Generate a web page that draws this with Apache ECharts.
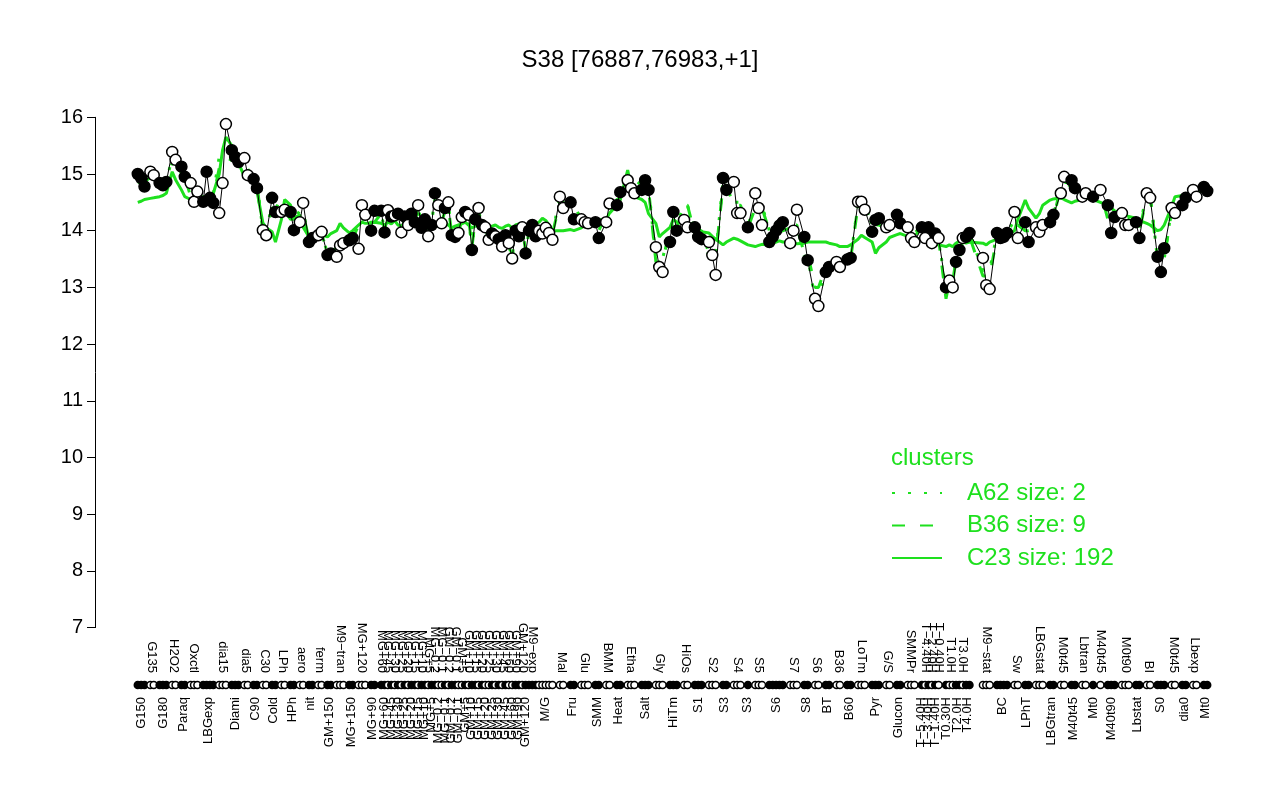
<!DOCTYPE html>
<html>
<head>
<meta charset="utf-8">
<script src="https://cdn.jsdelivr.net/npm/echarts@6/dist/echarts.min.js"></script>
<style>
  html, body { margin: 0; background: #fff; }
  #chart { width: 1280px; height: 800px; }
</style>
</head>
<body>
<div id="chart"></div>
<script>
// condition groups, left to right
const groupNames = [
  "G150", "G135", "G180", "H2O2", "Paraq", "Oxctl", "LBGexp", "dia15", "Diami", "dia5", "C90", "C30",
  "Cold", "LPh", "HPh", "aero", "nit", "ferm", "GM+150", "M9−tran", "MG+150", "MG+120", "MG+90",
  "MG+60", "MG+60", "MG+45", "MG+45", "MG+30", "MG+30", "MG+25", "MG+25", "MG+20", "MG+20", "MG+15", "MG+15",
  "MG+10", "MG+10", "MG+5", "MG+5", "MG−0.2", "MG−0.2", "MG−0.1", "MG−0.1", "GM−0.2", "GM−0.2", "GM−0.1", "GM−0.1",
  "GM+5", "GM+5", "GM+10", "GM+10", "GM+15", "GM+15", "GM+20", "GM+20", "GM+25", "GM+25", "GM+30", "GM+30",
  "GM+45", "GM+45", "GM+60", "GM+60", "GM+90", "GM+90", "GM+120", "GM+120", "M9−exp", "M/G",
  "Mal", "Fru", "Glu", "SMM", "BMM", "Heat", "Etha", "Salt", "Gly", "HiTm", "HiOs", "S1", "S2", "S3", "S4", "S3",
  "S5", "S6", "S7", "S8", "S6", "BT", "B36", "B60", "LoTm", "Pyr", "G/S", "Glucon", "SMMPr",
  "T−5.40H", "T−4.40H", "T−3.40H", "T−2.40H", "T−1.40H", "T−0.40H", "T0.30H", "T1.0H", "T2.0H", "T3.0H", "T4.0H",
  "M9−stat", "BC", "Sw", "LPhT", "LBGstat", "LBGtran", "M0t45", "M40t45", "Lbtran", "Mt0", "M40t45", "M40t90",
  "M0t90", "Lbstat", "BI", "S0", "M0t45", "dia0", "Lbexp", "Mt0"
];
const groupSizes = [
  3, 2, 3, 2, 2, 3, 4, 3, 3, 2, 2, 2, 2, 2, 2, 2, 2, 2, 2, 3, 2, 3, 2,
  1, 1, 1, 1, 1, 1, 1, 1, 1, 1, 1, 1, 1, 1, 1, 1, 1, 1, 1, 1, 1, 1, 1, 1,
  1, 1, 1, 1, 1, 1, 1, 1, 1, 1, 1, 1, 1, 1, 1, 1, 1, 1, 1, 1, 3, 5,
  2, 2, 3, 2, 2, 2, 3, 3, 3, 3, 2, 3, 3, 2, 3, 1, 3, 5, 3, 2, 2, 2, 2, 2, 3, 3, 2, 2, 3,
  1, 1, 1, 1, 1, 1, 1, 2, 2, 1, 2,
  3, 4, 2, 2, 3, 2, 2, 2, 2, 1, 1, 3, 3, 2, 2, 3, 2, 2, 2, 2
];
// 1 = filled marker, 0 = open marker
const groupFilled = [
  1, 0, 1, 0, 1, 0, 1, 0, 1, 0, 1, 0, 1, 0, 1, 0, 1, 0, 1, 0, 1, 0, 1,
  1, 1, 0, 1, 0, 1, 0, 1, 0, 1, 1, 0, 1, 1, 0, 1, 1, 0, 0, 1, 0, 1, 1,
  0, 0, 1, 0, 1, 1, 0, 1, 0, 0, 1, 0, 1, 0, 1, 0, 0, 1, 1, 0, 1, 1, 0,
  0, 1, 0, 1, 0, 1, 0, 1, 0, 1, 0, 1, 0, 1, 0, 1, 0, 1, 0, 1, 0, 1, 0, 1, 0, 1, 0, 1, 0,
  1, 0, 1, 0, 1, 0, 1, 0, 1, 0, 1,
  0, 1, 0, 1, 0, 1, 0, 1, 0, 1, 0, 1, 0, 1, 0, 1, 0, 1, 0, 1
];
// expression value of every sample
const sampleValues = [
  15.0, 14.93, 14.78, 15.04, 14.98, 14.84, 14.8, 14.86, 15.39, 15.25, 15.13, 14.95,
  14.84, 14.51, 14.69, 14.51, 15.04, 14.58, 14.49, 14.31, 14.84, 15.88, 15.42, 15.3, 15.21,
  15.28, 14.98, 14.91, 14.75, 14.01, 13.92, 14.58, 14.33, 14.33, 14.37, 14.33, 14.01,
  14.15, 14.49, 13.8, 13.87, 13.92, 13.98, 13.57, 13.6, 13.54, 13.74, 13.78, 13.83, 13.87,
  13.68, 14.45, 14.28, 14.0, 14.35,
  14.35, 13.97, 14.36, 14.25, 14.27, 14.3, 13.97, 14.25, 14.1, 14.3, 14.15, 14.45, 14.05,
  14.2, 13.9, 14.1, 14.66, 14.45, 14.13, 14.4, 14.5, 13.92, 13.89,
  13.96, 14.24, 14.33, 14.28, 13.66, 14.2, 14.4, 14.1, 14.06, 13.84, 13.95, 13.9, 13.85,
  13.72, 13.92, 13.78, 13.51, 14.0, 13.9, 14.06, 13.6,
  14.0, 14.1, 13.9, 14.0, 13.95, 14.05, 13.96, 13.84,
  14.6, 14.4, 14.5, 14.2, 14.2, 14.15, 14.13, 14.15, 13.87, 14.15, 14.48, 14.45, 14.68,
  14.89, 14.75, 14.66, 14.72, 14.89, 14.72, 13.71, 13.36, 13.27, 13.8, 14.33, 14.0,
  14.19, 14.06, 14.06, 13.89, 13.85, 13.8, 13.57, 13.22, 14.93, 14.72, 14.86, 14.31, 14.31,
  14.06, 14.66, 14.4, 14.1, 13.8, 13.89, 14.0, 14.09, 14.15, 13.78, 14.0, 14.37,
  13.89, 13.48, 12.8, 12.67, 13.27, 13.36, 13.45, 13.36, 13.49, 13.52,
  14.51, 14.51, 14.37, 13.98, 14.19, 14.22, 14.06, 14.1, 14.28, 14.13, 14.06, 13.87, 13.8,
  14.06, 13.87, 14.06, 13.78, 13.95, 13.87, 13.0, 13.12, 13.0, 13.45, 13.66, 13.87, 13.89, 13.96,
  13.52, 13.04, 12.97, 13.96, 13.87, 13.89, 13.96, 14.33, 13.87, 14.15, 13.8,
  14.06, 13.98, 14.1, 14.15, 14.28, 14.66, 14.95, 14.89, 14.75, 14.6, 14.66, 14.6, 14.72,
  14.45, 13.96, 14.24, 14.31, 14.1, 14.1, 14.15, 13.87, 14.66, 14.58, 13.54, 13.27, 13.69,
  14.4, 14.31, 14.45, 14.58, 14.72, 14.6, 14.77, 14.7
];
// cluster C23 profile, one value per sample
const c23Line = [
  14.5, 14.52, 14.55, 14.57, 14.58, 14.6, 14.62, 14.66, 15.04, 14.9, 14.72, 14.6,
  14.55, 14.52, 14.55, 14.54, 14.56, 14.6, 14.66, 15.0, 15.42, 15.65, 15.5, 15.35, 15.2,
  14.95, 14.92, 14.9, 14.7, 14.14, 14.05, 13.98, 13.8, 14.19, 14.55, 14.45, 14.22,
  14.28, 14.06, 13.89, 13.92, 13.96, 13.93, 13.89, 13.95, 14.0, 14.13, 14.05, 13.96, 14.0,
  14.1, 14.15, 14.13, 14.13, 14.15,
  14.13, 14.1, 14.15, 14.12, 14.18, 14.1, 14.08, 14.12, 14.15, 14.1, 14.2, 14.12, 14.1,
  14.05, 14.1, 14.15, 14.12, 14.08, 14.1, 14.15, 14.1, 14.05,
  14.08, 14.1, 14.12, 14.15, 14.1, 14.05, 14.08, 14.12, 14.1, 14.06, 14.05, 14.08, 14.1,
  14.06, 14.04, 14.08, 14.1, 14.05, 14.1, 14.12, 14.08, 14.1,
  14.1, 14.15, 14.13, 14.15, 14.22, 14.18, 14.1, 14.0,
  14.0, 14.0, 14.02, 14.0, 14.05, 14.1, 14.08, 14.1, 14.1, 14.2, 14.31, 14.45, 14.55,
  15.07, 14.77, 14.6, 14.55, 14.5, 14.3, 14.13, 13.89, 13.95, 14.06, 14.2, 14.15,
  14.13, 14.1, 14.1, 14.05, 13.98, 13.96, 13.9, 13.85, 13.75, 13.8, 13.87, 13.85, 13.82,
  13.75, 13.72, 13.74, 13.76, 13.75, 13.78, 13.8, 13.82, 13.8, 13.8, 13.78, 13.77,
  13.78, 13.8, 13.8, 13.8, 13.8, 13.78, 13.75, 13.72, 13.72, 13.75,
  13.85, 13.92, 13.88, 13.8, 13.6, 13.7, 13.8, 13.88, 13.93, 13.95, 13.9, 13.88, 13.85,
  13.87, 13.85, 13.8, 13.82, 13.78, 13.75, 13.72, 13.75, 13.72, 13.78, 13.82, 13.8, 13.78, 13.8,
  13.78, 13.75, 13.8, 13.85, 13.89, 13.9, 13.92, 14.0, 14.2, 14.54, 14.4,
  14.22, 14.3, 14.45, 14.54, 14.56, 14.58, 14.55, 14.49, 14.52, 14.55, 14.58, 14.55, 14.5,
  14.45, 14.4, 14.35, 14.31, 14.28, 14.25, 14.22, 14.18, 14.13, 14.1, 14.0, 14.02, 14.1,
  14.42, 14.6, 14.62, 14.64, 14.66, 14.68, 14.7, 14.72
];
// cluster B36 profile, one value per group
const b36Line = [
  14.85, 14.95, 14.8, 15.2, 14.95, 14.6, 14.6, 15.1, 15.3, 15.1, 14.8, 14.0, 14.4, 14.35, 14.2, 14.3,
  13.85, 13.95, 13.6, 13.7, 13.85, 14.1, 14.15,
  14.3, 14.0, 14.3, 14.2, 14.25, 14.25, 14.0, 14.2, 14.1, 14.25, 14.15, 14.4, 14.05, 14.15, 13.95, 14.1,
  14.55, 14.4, 14.15, 14.35, 14.4, 13.95, 13.9, 13.95, 14.2, 14.3, 14.25, 13.7, 14.2, 14.35, 14.1, 14.05,
  13.85, 13.95, 13.9, 13.85, 13.75, 13.9, 13.8, 13.55, 13.95, 13.9, 14.05, 13.65, 14.0, 13.95,
  14.5, 14.35, 14.15, 14.0, 14.3, 14.55, 14.75, 14.75, 13.45, 14.05, 14.45, 13.95, 13.55, 14.8, 14.45,
  14.05, 14.4, 14.0, 14.05, 13.6, 13.0, 13.35, 13.4, 13.5, 14.45, 14.1, 14.05, 14.2, 13.9,
  14.05, 13.9, 14.05, 13.8, 13.95, 13.85, 12.8, 13.1, 13.5, 13.85, 13.9,
  13.2, 13.9, 14.1, 14.0, 14.05, 14.2, 14.8, 14.8, 14.6, 14.6, 14.7, 14.2, 14.15, 14.0, 14.6, 13.5,
  14.35, 14.5, 14.65, 14.75
];
// cluster A62 profile, one value per group
const a62Line = [
  14.9, 15.0, 14.85, 15.3, 15.0, 14.7, 14.65, 15.3, 15.35, 15.1, 14.85, 14.0, 14.45, 14.4, 14.2, 14.35,
  13.85, 13.95, 13.6, 13.7, 13.85, 14.2, 14.2,
  14.35, 13.95, 14.35, 14.25, 14.3, 14.3, 13.95, 14.25, 14.1, 14.3, 14.15, 14.45, 14.05, 14.2, 13.9, 14.1,
  14.65, 14.45, 14.15, 14.4, 14.5, 13.9, 13.9, 13.95, 14.25, 14.35, 14.3, 13.65, 14.2, 14.4, 14.1, 14.05,
  13.85, 13.95, 13.9, 13.85, 13.7, 13.9, 13.75, 13.5, 14.0, 13.9, 14.05, 13.6, 14.0, 13.95,
  14.6, 14.45, 14.2, 14.1, 14.4, 14.6, 14.9, 14.8, 13.5, 14.1, 14.45, 14.0, 13.6, 14.85, 14.5,
  14.1, 14.45, 14.0, 14.1, 13.55, 12.8, 13.3, 13.4, 13.5, 14.5, 14.1, 14.1, 14.25, 13.95,
  14.1, 13.9, 14.05, 13.8, 13.95, 13.9, 12.9, 13.1, 13.5, 13.85, 13.95,
  13.3, 13.95, 14.2, 14.05, 14.05, 14.25, 14.85, 14.85, 14.65, 14.6, 14.75, 14.25, 14.2, 14.05, 14.65, 13.5,
  14.4, 14.55, 14.7, 14.8
];
const clusterNames = ["A62 size: 2", "B36 size: 9", "C23 size: 192"];

// ---- layout: extra space between groups (time courses sit side by side)
const gapBefore = g => {
  if (g === 0) return 0;
  if (g < 23) return 0.75;
  if (g === 23) return 1;
  if (g < 69) return 0;
  if (g === 109) return 3;
  if ((g > 98 && g < 104) || (g > 104 && g < 109)) return 0;
  return 1.2;
};

const xs = [];
const sampleGroup = [];
const groupCenter = [];
let p = 0;
groupSizes.forEach((n, g) => {
  if (g > 0) p += 1 + gapBefore(g);
  const start = p;
  for (let j = 0; j < n; j++) {
    if (j > 0) p += 1;
    xs.push(p);
    sampleGroup.push(g);
  }
  groupCenter.push((start + p) / 2);
});
const pad = p * 0.04;
const xMin = -pad;
const xMax = p + pad;

const GREEN = "#1ee01e";
const FONT = "'Liberation Sans', Arial, Helvetica, sans-serif";

const labelAt = {};
groupCenter.forEach((c, g) => { labelAt[c.toFixed(4)] = groupNames[g]; });
const bottomVals = groupCenter.filter((c, g) => g % 2 === 0);
const topVals = groupCenter.filter((c, g) => g % 2 === 1);

const markStyle = i => groupFilled[sampleGroup[i]]
  ? { color: "#000", borderColor: "#000", borderWidth: 1.5, opacity: 1 }
  : { color: "#fff", borderColor: "#000", borderWidth: 1.5, opacity: 1 };

const chart = echarts.init(document.getElementById("chart"));

const condAxis = (position, values) => ({
  gridIndex: 1, type: "value", position, min: xMin, max: xMax,
  axisLine: { show: false, onZero: false }, axisTick: { show: false }, splitLine: { show: false },
  axisLabel: {
    customValues: values, rotate: 90, margin: 11, fontSize: 13, color: "#000",
    fontFamily: FONT, formatter: v => labelAt[v.toFixed(4)] || ""
  }
});

const options = {
  animation: false,
  backgroundColor: "#fff",
  textStyle: { fontFamily: FONT },
  title: [
    {
      text: "S38 [76887,76983,+1]",
      left: "center",
      top: 43,
      textStyle: { fontFamily: FONT, fontSize: 24, fontWeight: "normal", color: "#000" }
    },
    {
      text: "clusters",
      left: 886,
      top: 441,
      textStyle: { fontFamily: FONT, fontSize: 24, fontWeight: "normal", color: GREEN }
    }
  ],
  legend: {
    orient: "vertical",
    left: 886,
    top: 476,
    itemWidth: 50,
    itemHeight: 14,
    itemGap: 8.5,
    selectedMode: false,
    data: clusterNames,
    itemStyle: { opacity: 0 },
    textStyle: { fontFamily: FONT, fontSize: 24, color: GREEN, padding: [0, 0, 0, 20] }
  },
  grid: [
    { left: 95, right: 30, top: 117.3, bottom: 172.4 },
    { left: 95, right: 30, top: 684, height: 2 }
  ],
  xAxis: [
    { gridIndex: 0, type: "value", min: xMin, max: xMax, show: false },
    condAxis("bottom", bottomVals),
    condAxis("top", topVals)
  ],
  yAxis: [
    {
      gridIndex: 0, type: "value", min: 7, max: 16, interval: 1,
      axisLine: { show: true, onZero: false, lineStyle: { color: "#000", width: 1 } },
      axisTick: { show: true, length: 8, lineStyle: { color: "#000" } },
      axisLabel: { fontSize: 20, color: "#000", margin: 12, fontFamily: FONT },
      splitLine: { show: false }
    },
    { gridIndex: 1, type: "value", min: -1, max: 1, show: false }
  ],
  series: [
    {
      name: clusterNames[0], type: "line", xAxisIndex: 0, yAxisIndex: 0,
      data: xs.map((x, i) => [x, a62Line[sampleGroup[i]]]),
      symbol: "none", clip: false, z: 2, itemStyle: { color: GREEN },
      lineStyle: { color: GREEN, width: 3, type: [3, 13] }
    },
    {
      name: clusterNames[1], type: "line", xAxisIndex: 0, yAxisIndex: 0,
      data: xs.map((x, i) => [x, b36Line[sampleGroup[i]]]),
      symbol: "none", clip: false, z: 3, itemStyle: { color: GREEN },
      lineStyle: { color: GREEN, width: 3, type: [13, 15] }
    },
    {
      name: clusterNames[2], type: "line", xAxisIndex: 0, yAxisIndex: 0,
      data: xs.map((x, i) => [x, c23Line[i]]),
      symbol: "none", clip: false, z: 4, itemStyle: { color: GREEN },
      lineStyle: { color: GREEN, width: 3 }
    },
    {
      name: "profile", type: "line", xAxisIndex: 0, yAxisIndex: 0,
      data: xs.map((x, i) => [x, sampleValues[i]]),
      symbol: "none", clip: false, z: 5,
      lineStyle: { color: "#000", width: 1 }
    },
    {
      name: "samples", type: "scatter", xAxisIndex: 0, yAxisIndex: 0,
      data: xs.map((x, i) => ({ value: [x, sampleValues[i]], itemStyle: markStyle(i) })),
      symbol: "circle", symbolSize: 11, clip: false, z: 6
    },
    {
      name: "conditions", type: "scatter", xAxisIndex: 1, yAxisIndex: 1,
      data: xs.map((x, i) => ({ value: [x, 0], itemStyle: markStyle(i) })),
      symbol: "circle", symbolSize: 7, clip: false, z: 6
    }
  ]
};

chart.setOption(options);
</script>
</body>
</html>
